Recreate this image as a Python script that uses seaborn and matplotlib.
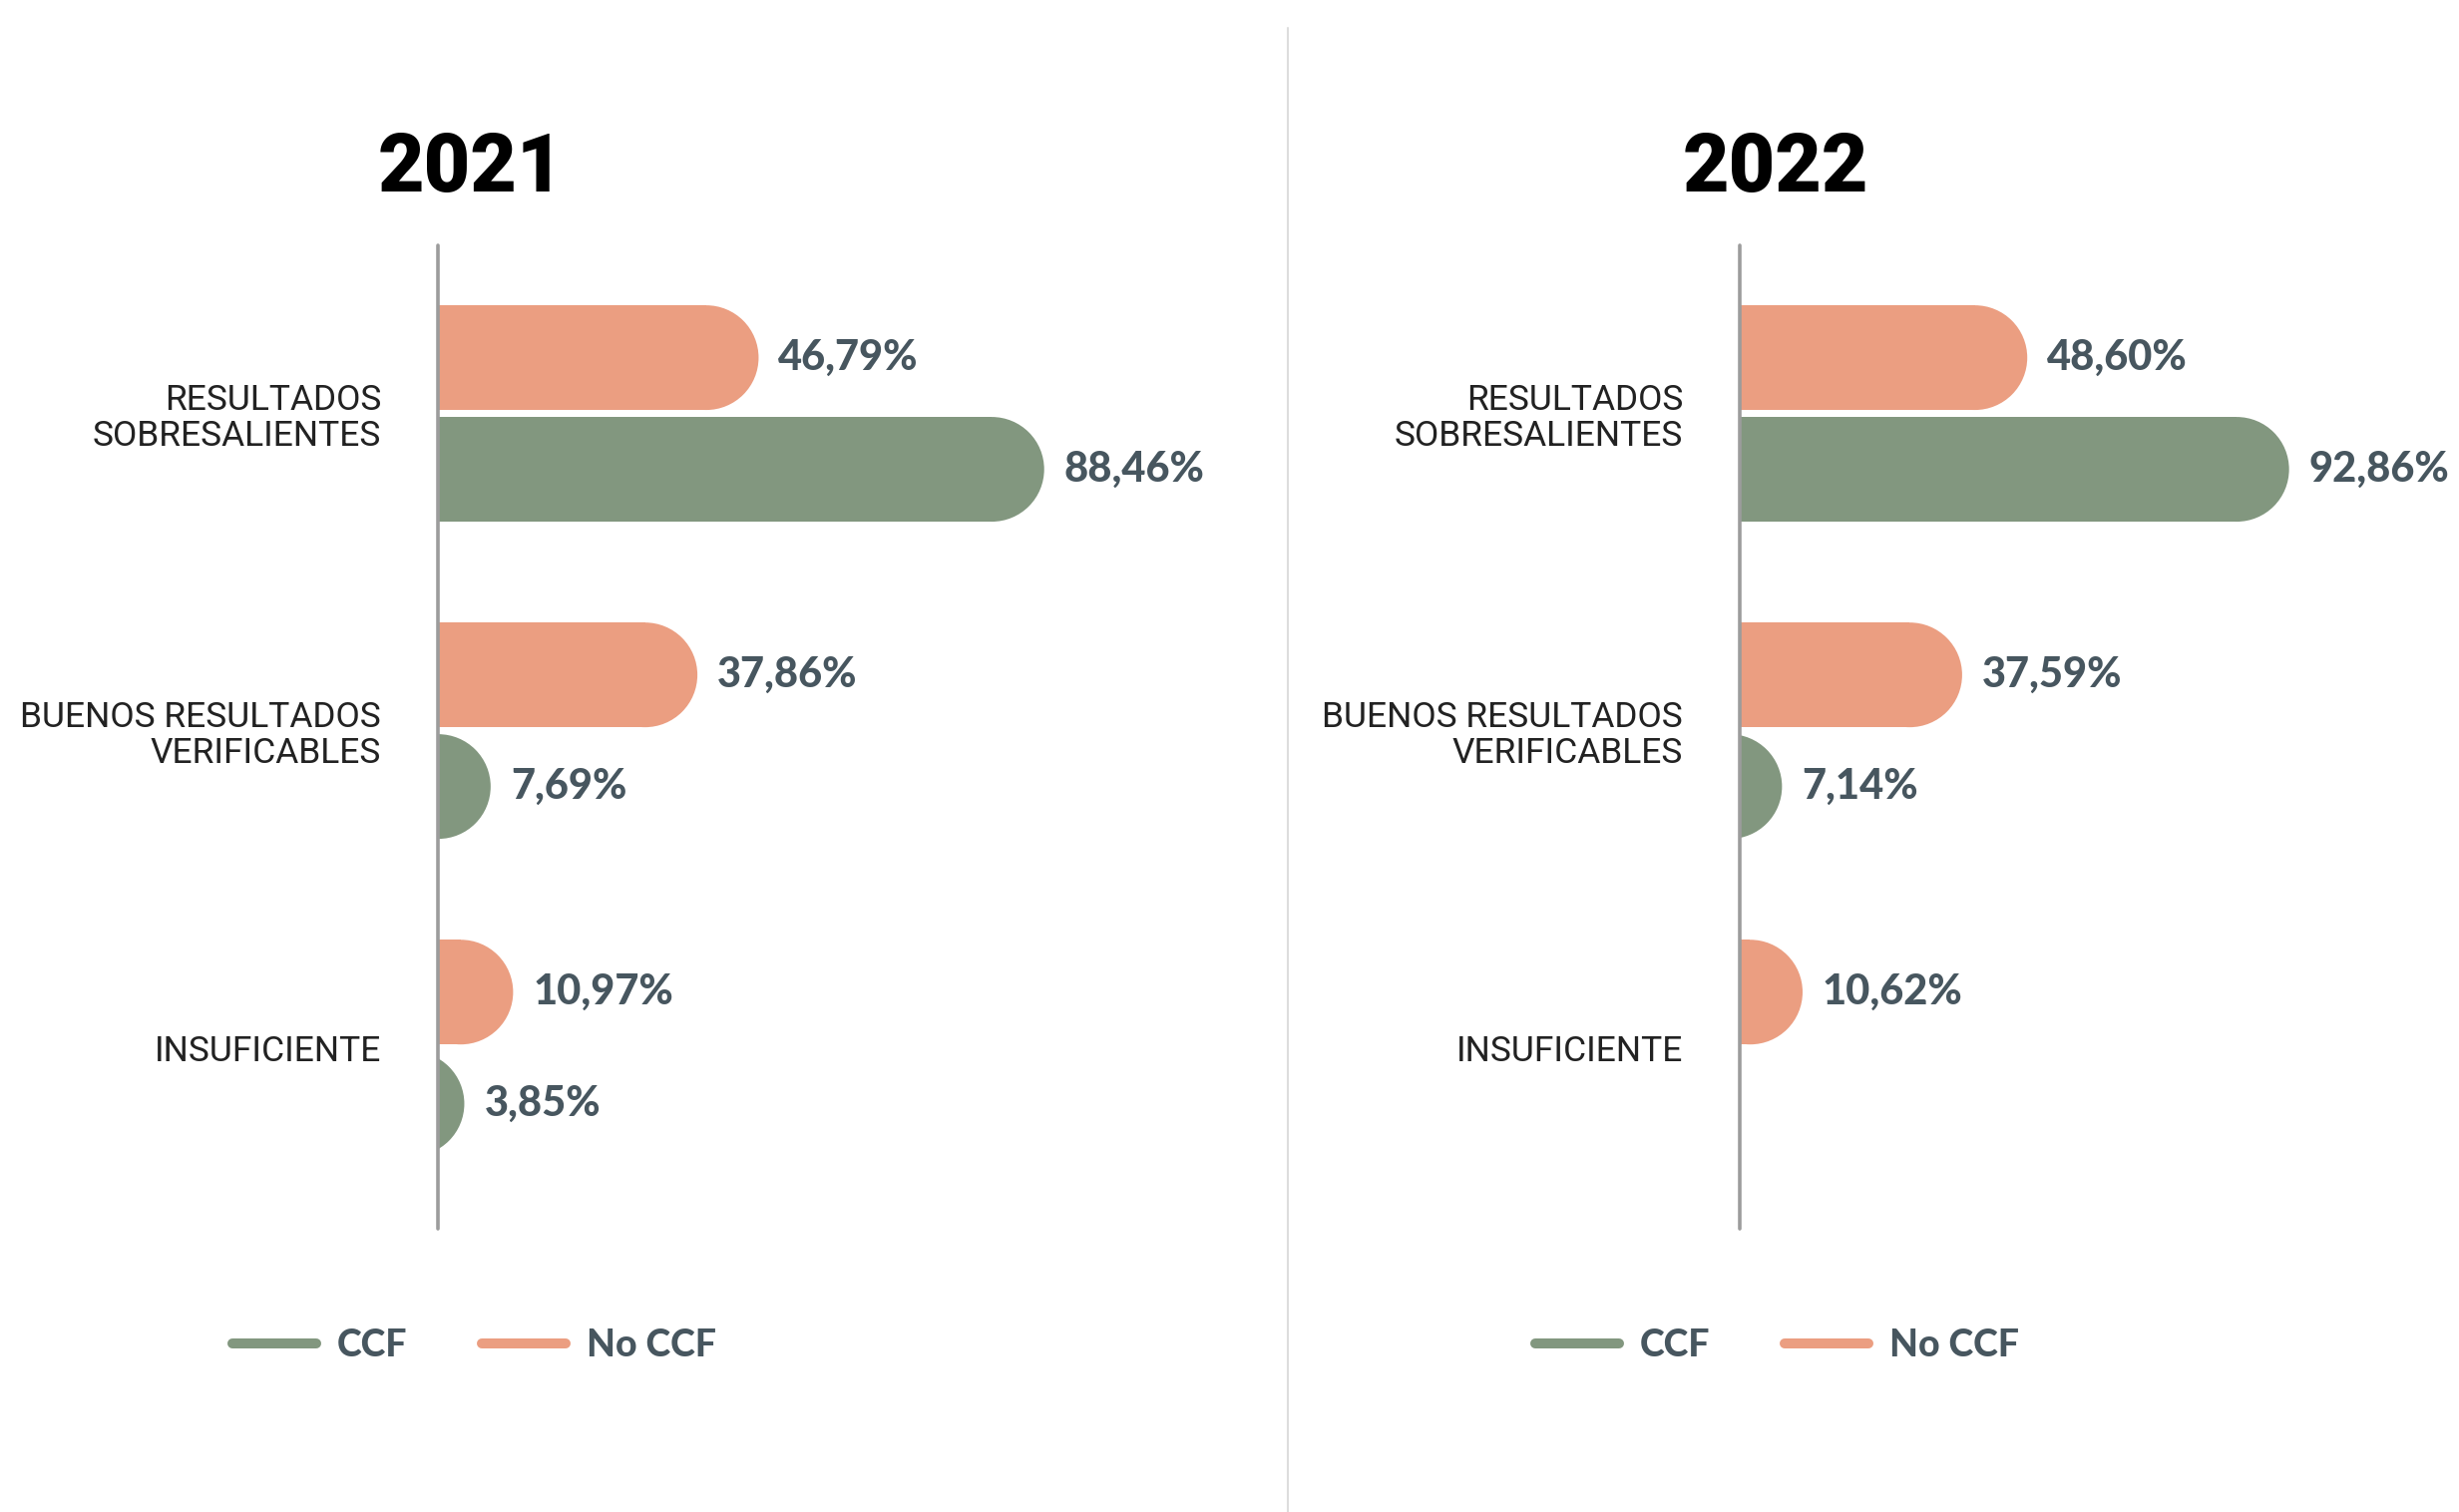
import numpy as np
import pandas as pd
import matplotlib
matplotlib.use("Agg")
import matplotlib.pyplot as plt
import seaborn as sns
from matplotlib.patches import Ellipse
from matplotlib.lines import Line2D

# data
categories = ["RESULTADOS\nSOBRESALIENTES", "BUENOS RESULTADOS\nVERIFICABLES", "INSUFICIENTE"]
groups = ["No CCF", "CCF"]
ccf_2021 = [88.46, 7.69, 3.85]
no_ccf_2021 = [46.79, 37.86, 10.97]
ccf_2022 = [92.86, 7.14, 0.0]
no_ccf_2022 = [48.60, 37.59, 10.62]

green = "#82977f"
orange = "#eb9e81"
txt = "#47565f"
palette = {"CCF": green, "No CCF": orange}

rows = []
for year, ccf, noccf in [("2021", ccf_2021, no_ccf_2021), ("2022", ccf_2022, no_ccf_2022)]:
    for cat, a, b in zip(categories, ccf, noccf):
        rows.append({"year": year, "category": cat, "group": "CCF", "value": a})
        rows.append({"year": year, "category": cat, "group": "No CCF", "value": b})
df = pd.DataFrame(rows)

sns.set_style("white")
plt.rcParams["font.family"] = ["Roboto", "DejaVu Sans"]

W, H = 2465, 1516
fig = plt.figure(figsize=(W / 100, H / 100), dpi=100)
fig.patch.set_facecolor("white")

# panel geometry in pixels: axis x, axis width for 0..100%, title x, legend x
panels = [("2021", 439, 687, 472, 233), ("2022", 1744, 593, 1780, 1539)]
top_px, bot_px = 246, 1232

for year, x0, w100, tx, legx in panels:
    ax = fig.add_axes([x0 / W, 1 - bot_px / H, w100 / W, (bot_px - top_px) / H])
    sub = df[df["year"] == year]
    sns.barplot(data=sub, x="value", y="category", hue="group", order=categories,
                hue_order=groups, palette=palette, orient="h", width=0.704, gap=0.0625,
                errorbar=None, legend=False, ax=ax, linewidth=0, saturation=1)
    ax.set_xlim(0, 100)
    ax.set_ylim(2.57, -0.53)

    px_x = w100 / 100.0
    px_y = (bot_px - top_px) / 3.1

    bars = [p for p in ax.patches]
    for p in bars:
        v = p.get_width()
        if v <= 0:
            p.set_visible(False)
            continue
        y, h = p.get_y(), p.get_height()
        rx = (h * px_y / 2) / px_x
        p.set_width(max(v - rx, 0))
        ax.add_patch(Ellipse((v - rx, y + h / 2), 2 * rx, h, facecolor=p.get_facecolor(),
                             linewidth=0, zorder=p.get_zorder()))
        ax.annotate(f"{v:.2f}".replace(".", ",") + "%", xy=(v, y + h / 2), xytext=(14.4, 0),
                    textcoords="offset points", ha="left", va="center", fontsize=30,
                    fontweight="black", color=txt, family=["Lato", "DejaVu Sans"],
                    annotation_clip=False)

    for s in ["top", "right", "bottom"]:
        ax.spines[s].set_visible(False)
    ax.spines["left"].set_color("#9c9c9c")
    ax.spines["left"].set_linewidth(2.6)
    ax.spines["left"].set_capstyle("round")
    ax.xaxis.set_visible(False)
    ax.set_ylabel("")
    ax.set_facecolor("none")
    ax.tick_params(axis="y", length=0, pad=41, labelsize=25.5, labelcolor="#222222")
    for t in ax.get_yticklabels():
        t.set_linespacing(1.1)

    fig.text(tx / W, 1 - 170 / H, year, ha="center", va="center", fontsize=58,
             fontweight="black", color="black")

    handles = [Line2D([0], [0], color=green, lw=7.2, solid_capstyle="round"),
               Line2D([0], [0], color=orange, lw=7.2, solid_capstyle="round")]
    ax.legend(handles=handles, labels=["CCF", "No CCF"], ncol=2, frameon=False,
              loc="center left", bbox_to_anchor=(legx / W, 1 - 1349 / H),
              bbox_transform=fig.transFigure, prop={"family": "Lato", "weight": "black", "size": 27},
              labelcolor=txt, handlelength=2.24, handletextpad=0.55, columnspacing=2.0,
              borderpad=0, borderaxespad=0)

fig.add_artist(Line2D([1291 / W, 1291 / W], [1 - 28 / H, 0], color="#dddddd", lw=1.5,
                      transform=fig.transFigure))

fig.savefig("out.png", dpi=100, facecolor="white")
